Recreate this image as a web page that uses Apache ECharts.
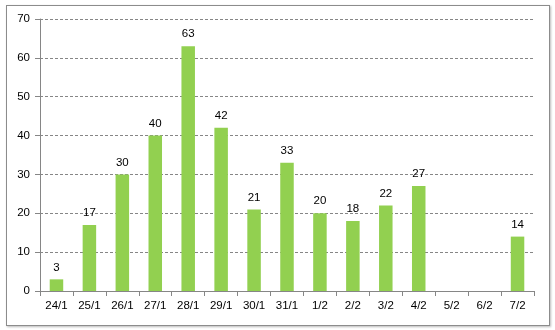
<!DOCTYPE html>
<html>
<head>
<meta charset="utf-8">
<script src="https://cdn.jsdelivr.net/npm/echarts@6/dist/echarts.min.js"></script>
<style>
  html, body { margin: 0; padding: 0; background: #fff; }
  #frame {
    position: absolute; left: 6px; top: 5px;
    width: 542px; height: 319px;
    border: 1px solid #8c8c8c;
    box-shadow: 1px 1px 2px #bbb;
  }
  #chart { position: absolute; left: 0; top: 0; width: 555px; height: 330px; }
</style>
</head>
<body>
<div id="frame"></div>
<div id="chart"></div>
<script>
// dates on the x axis
const days = ['24/1', '25/1', '26/1', '27/1', '28/1', '29/1', '30/1', '31/1', '1/2', '2/2', '3/2', '4/2', '5/2', '6/2', '7/2']
// counts per day (5/2 and 6/2 empty)
const counts = [3, 17, 30, 40, 63, 42, 21, 33, 20, 18, 22, 27, null, null, 14]

const font = 'Liberation Sans'

const chart = echarts.init(document.getElementById('chart'))
chart.setOption({
  animation: false,
  grid: { left: 40, right: 21, top: 19, bottom: 39 },
  xAxis: {
    type: 'category',
    data: days,
    axisLine: { lineStyle: { color: '#868686' } },
    axisTick: { show: true, length: 5, lineStyle: { color: '#868686' } },
    axisLabel: { color: '#000', fontSize: 11.5, fontFamily: font, margin: 9, interval: 0 }
  },
  yAxis: {
    type: 'value',
    min: 0,
    max: 70,
    interval: 10,
    axisLine: { show: true, lineStyle: { color: '#868686' } },
    axisTick: { show: true, length: 5, lineStyle: { color: '#868686' } },
    axisLabel: { color: '#000', fontSize: 11.5, fontFamily: font, margin: 10 },
    splitLine: { lineStyle: { color: '#868686', type: [3, 2], width: 1 } }
  },
  series: [{
    type: 'bar',
    data: counts,
    barWidth: '41%',
    itemStyle: { color: '#92D050' },
    label: {
      show: true,
      position: 'top',
      distance: 6,
      color: '#000',
      fontSize: 11.5,
      fontFamily: font
    }
  }]
})
</script>
</body>
</html>
